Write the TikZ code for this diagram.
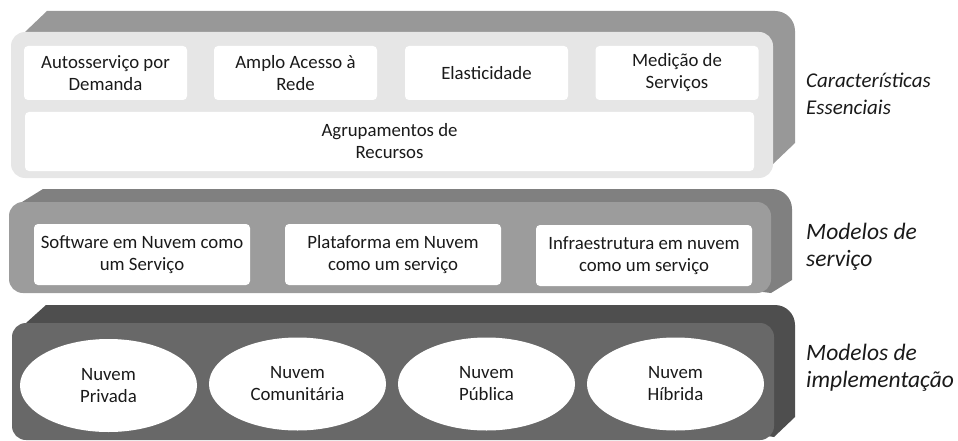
\documentclass[tikz,border=0pt]{standalone}
\usepackage{fontspec}
\setmainfont{Carlito}
\usetikzlibrary{shapes.geometric}
\definecolor{topfront}{HTML}{E6E6E6}
\definecolor{topside}{HTML}{989898}
\definecolor{midfront}{HTML}{9C9C9C}
\definecolor{midside}{HTML}{808080}
\definecolor{lowfront}{HTML}{686868}
\definecolor{lowside}{HTML}{4E4E4E}
\definecolor{ink}{HTML}{1A1A1A}

\begin{document}
\begin{tikzpicture}[x=1pt,y=-1pt,
    cellbox/.style={fill=white,rounded corners=4pt,align=center,text=ink,
      font=\fontsize{18.8}{22}\selectfont,inner sep=0pt},
    cloudnode/.style={ellipse,fill=white,minimum width=177pt,minimum height=93pt,
      align=center,text=ink,font=\fontsize{18.8}{22}\selectfont,inner sep=0pt},
    layerlabel/.style={anchor=west,align=left,text=ink,inner sep=0pt,
      font=\fontsize{23.5}{27}\itshape\selectfont}]
  \useasboundingbox (0,0) rectangle (958,441);
  % top layer
  \fill[topside] (25,32) -- (47,11) [rounded corners=20pt] -- (795,11) [sharp corners] -- (795,143) -- (773,164) -- cycle;% depth
  \fill[topfront,rounded corners=14pt] (11,32) rectangle (773,178);% face
  \node[cellbox,minimum width=163pt,minimum height=54pt] (selfserv) at (105.5,73) {Autosserviço por\\Demanda};
  \node[cellbox,minimum width=163pt,minimum height=54pt] (access) at (295.5,73) {Amplo Acesso à\\Rede};
  \node[cellbox,minimum width=163pt,minimum height=54pt] (elastic) at (486.5,73) {Elasticidade};
  \node[cellbox,minimum width=163pt,minimum height=54pt] (metering) at (677,73) {Medição de\\Serviços};
  \node[cellbox,minimum width=729pt,minimum height=59pt] (pooling) at (389.5,141.5) {Agrupamentos de\\Recursos};
  % middle layer
  \fill[midside] (22,202) -- (43,189) [rounded corners=20pt] -- (792,189) [sharp corners] -- (792,280) -- (771,293) -- cycle;% depth
  \fill[midfront,rounded corners=14pt] (9,202) rectangle (771,293);% face
  \node[cellbox,minimum width=216pt,minimum height=61pt] (saas) at (142,254.5) {Software em Nuvem como\\um Serviço};
  \node[cellbox,minimum width=216pt,minimum height=61pt] (paas) at (393,254.5) {Plataforma em Nuvem\\como um serviço};
  \node[cellbox,minimum width=216pt,minimum height=61pt] (iaas) at (644,255.5) {Infraestrutura em nuvem\\como um serviço};
  % lower layer
  \fill[lowside] (26,323) -- (46,305) [rounded corners=20pt] -- (795,305) [sharp corners] -- (795,417) -- (774,437) -- cycle;% depth
  \fill[lowfront,rounded corners=14pt] (12,323) rectangle (774,440);% face
  \node[cloudnode] (private) at (108.5,385.5) {Nuvem\\Privada};
  \node[cloudnode] (community) at (297.5,384) {Nuvem\\Comunitária};
  \node[cloudnode] (public) at (486.5,384) {Nuvem\\Pública};
  \node[cloudnode] (hybrid) at (675.5,384) {Nuvem\\Híbrida};
  % layer titles
  \node[layerlabel,font=\fontsize{21}{27}\itshape\selectfont] (essential) at (806,93.5) {Características\\Essenciais};
  \node[layerlabel] (service) at (806,247) {Modelos de\\serviço};
  \node[layerlabel] (deploy) at (806,367.5) {Modelos de\\implementação};
\end{tikzpicture}
\end{document}
